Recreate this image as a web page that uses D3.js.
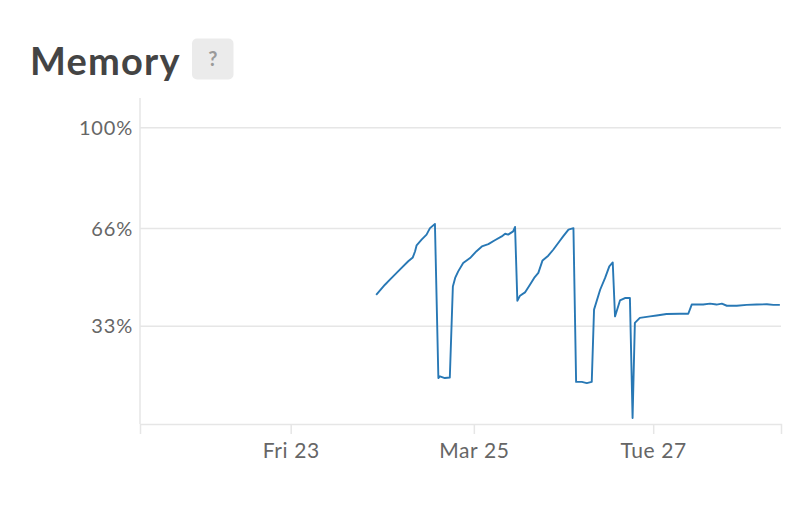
<!DOCTYPE html>
<html>
<head>
<meta charset="utf-8">
<script src="https://cdn.jsdelivr.net/npm/d3@7"></script>
<style>
  html, body { margin: 0; padding: 0; background: #fff; }
  svg { display: block; font-family: "Lato", "Open Sans", sans-serif; }
</style>
</head>
<body>
<svg id="chart" width="808" height="522"></svg>
<script>
// ---- data ----
const chartTitle = "Memory";
const startTime = new Date(2018, 2, 21, 8, 30);   // left edge of x domain
const endTime   = new Date(2018, 2, 28, 8, 30);   // right edge of x domain
// hours after startTime
const hoursOffset = [
  61.9, 64.2, 65.5, 68.1, 70.3, 71.5, 72.1, 72.5, 73.8, 75.1, 76.0, 77.3,
  78.2, 78.6, 79.9, 81.2,
  82.0, 82.6, 83.4, 84.7, 86.5, 88.2, 89.6, 91.3, 93.0, 94.8, 95.7, 96.5, 97.8, 98.3,
  98.9, 99.6, 100.9, 102.2, 103.3, 104.4, 105.5, 107.0, 108.3, 109.9, 110.9, 112.3, 113.6,
  114.3, 115.8, 117.1, 118.4,
  119.0, 120.6, 121.9, 123.0, 123.9,
  124.5, 125.8, 127.1, 128.4,
  129.1, 129.7, 131.0, 133.7, 135.4, 138.0, 141.5, 143.7,
  144.6, 147.6, 149.4, 151.1, 152.5, 153.8, 156.4, 159.0, 161.6, 164.3, 166.0, 167.7
];
// memory usage, percent
const memoryPct = [
  43.6, 47.0, 48.7, 52.1, 54.9, 56.2, 58.3, 60.3, 62.2, 63.9, 66.1, 67.5,
  15.5, 16.1, 15.5, 15.7,
  46.4, 49.3, 51.5, 54.3, 56.0, 58.3, 59.9, 60.7, 62.0, 63.3, 64.2, 63.9, 65.0, 66.5,
  41.6, 43.3, 44.4, 47.0, 49.3, 51.0, 55.2, 56.8, 58.8, 61.6, 63.3, 65.6, 66.1,
  14.2, 14.2, 13.8, 14.2,
  38.6, 45.3, 49.3, 53.2, 54.5,
  36.3, 41.7, 42.5, 42.5,
  2.0, 34.1, 35.8, 36.3, 36.6, 37.1, 37.2, 37.2,
  40.3, 40.3, 40.6, 40.3, 40.6, 39.9, 39.9, 40.2, 40.3, 40.4, 40.2, 40.2
];
// x ticks (midnights; the Mar 27 one falls an hour earlier because of the DST switch on Mar 25)
const xTickDates = [new Date(2018, 2, 23, 0, 0), new Date(2018, 2, 25, 0, 0), new Date(2018, 2, 26, 23, 0)];
const xTickLabels = ["Fri 23", "Mar 25", "Tue 27"];
const yTicks = [33, 66, 100];
const yTickLabels = ["33%", "66%", "100%"];
const yMax = 110;

// ---- layout ----
const svg = d3.select("#chart");
const plotLeft = 140, plotRight = 781, plotTop = 98, plotBottom = 424;
const gridColor = "#e6e6e6";
const textColor = "#666";

const data = hoursOffset.map((h, i) => ({
  t: new Date(startTime.getTime() + h * 3600 * 1000),
  v: memoryPct[i]
}));

const x = d3.scaleTime().domain([startTime, endTime]).range([plotLeft, plotRight]);
const y = d3.scaleLinear().domain([0, yMax]).range([plotBottom, plotTop]);

// title
svg.append("text")
  .attr("x", 30).attr("y", 75)
  .attr("fill", "#444")
  .attr("font-size", 38)
  .attr("font-weight", 700)
  .attr("letter-spacing", 1.2)
  .text(chartTitle);

// help badge
svg.append("rect")
  .attr("x", 192).attr("y", 38.5).attr("width", 41.5).attr("height", 41)
  .attr("rx", 5).attr("fill", "#ebebeb");
svg.append("text")
  .attr("x", 212.75).attr("y", 66)
  .attr("text-anchor", "middle")
  .attr("fill", "#9a9a9a")
  .attr("font-size", 20)
  .attr("font-weight", 700)
  .text("?");

// y grid + labels
const gy = svg.append("g");
gy.selectAll("line.grid")
  .data(yTicks)
  .join("line")
  .attr("class", "grid")
  .attr("x1", plotLeft).attr("x2", plotRight)
  .attr("y1", d => y(d)).attr("y2", d => y(d))
  .attr("stroke", gridColor).attr("stroke-width", 1.5);
gy.selectAll("text")
  .data(yTicks)
  .join("text")
  .attr("x", 133)
  .attr("y", d => y(d))
  .attr("dy", "0.36em")
  .attr("text-anchor", "end")
  .attr("fill", textColor)
  .attr("font-size", 20)
  .attr("letter-spacing", 0.8)
  .text((d, i) => yTickLabels[i]);

// y axis line
svg.append("line")
  .attr("x1", plotLeft).attr("x2", plotLeft)
  .attr("y1", plotTop).attr("y2", plotBottom)
  .attr("stroke", gridColor).attr("stroke-width", 1.5);

// x axis
const xAxis = d3.axisBottom(x)
  .tickValues(xTickDates)
  .tickFormat((d, i) => xTickLabels[i])
  .tickSize(10)
  .tickSizeOuter(10)
  .tickPadding(10);
const gx = svg.append("g")
  .attr("transform", `translate(0,${plotBottom})`)
  .call(xAxis);
gx.select(".domain").attr("stroke", gridColor).attr("stroke-width", 1.5);
gx.selectAll(".tick line").attr("stroke", gridColor).attr("stroke-width", 1.5);
gx.selectAll(".tick text")
  .attr("fill", textColor)
  .attr("font-size", 21)
  .attr("letter-spacing", 0.6)
  .attr("font-family", "Lato, 'Open Sans', sans-serif")
  .attr("y", 34)
  .attr("dy", 0);

// line
const line = d3.line().x(d => x(d.t)).y(d => y(d.v));
svg.append("path")
  .datum(data)
  .attr("fill", "none")
  .attr("stroke", "#2878b5")
  .attr("stroke-width", 1.9)
  .attr("stroke-linejoin", "round")
  .attr("d", line);
</script>
</body>
</html>
